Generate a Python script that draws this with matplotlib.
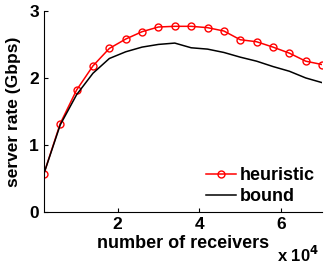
import matplotlib
matplotlib.use('Agg')
import matplotlib.pyplot as plt

# dados (x em unidades de 10^4)
receivers = [0.2, 0.6, 1.0, 1.4, 1.8, 2.2, 2.6, 3.0, 3.4, 3.8, 4.2, 4.6, 5.0, 5.4, 5.8, 6.2, 6.6, 7.0]
heuristic = [0.57, 1.32, 1.82, 2.18, 2.44, 2.58, 2.69, 2.76, 2.77, 2.77, 2.75, 2.70, 2.57, 2.54, 2.46, 2.37, 2.25, 2.20]
bound = [0.57, 1.30, 1.75, 2.07, 2.29, 2.39, 2.46, 2.50, 2.52, 2.45, 2.43, 2.38, 2.31, 2.25, 2.17, 2.10, 2.00, 1.93]

plt.rcParams['font.family'] = ['Liberation Sans', 'DejaVu Sans']
plt.rcParams['font.weight'] = 'bold'

fig = plt.figure(figsize=(3.25, 2.66), dpi=100)
ax = fig.add_axes([0.135, 0.203, 0.856, 0.756])

ax.plot(receivers, heuristic, color='#ff0000', marker='o', markersize=5,
        markerfacecolor='none', linewidth=1.1, label='heuristic')
ax.plot(receivers, bound, color='black', linewidth=1.1, label='bound')

ax.set_xlim(0.2, 7.0)
ax.set_ylim(0, 3)
ax.set_xticks([2, 4, 6])
ax.set_yticks([0, 1, 2, 3])
ax.tick_params(direction='in', length=3, labelsize=12.5, width=0.8)
for lbl in ax.get_xticklabels() + ax.get_yticklabels():
    lbl.set_fontweight('bold')

ax.spines['top'].set_visible(False)
ax.spines['right'].set_visible(False)

ax.set_xlabel('number of receivers', fontsize=13, fontweight='bold', labelpad=2)
ax.set_ylabel('server rate (Gbps)', fontsize=12.5, fontweight='bold', labelpad=6)
ax.text(0.99, -0.165, r'x 10$^{\mathbf{4}}$', transform=ax.transAxes, ha='right',
        va='top', fontsize=12, fontweight='bold')

leg = ax.legend(loc='lower right', frameon=False, fontsize=13, handlelength=1.7,
                handletextpad=0.2, labelspacing=0.25, borderaxespad=0.3,
                bbox_to_anchor=(1.02, -0.03))
for t in leg.get_texts():
    t.set_fontweight('bold')

plt.savefig('out.png', dpi=100)
